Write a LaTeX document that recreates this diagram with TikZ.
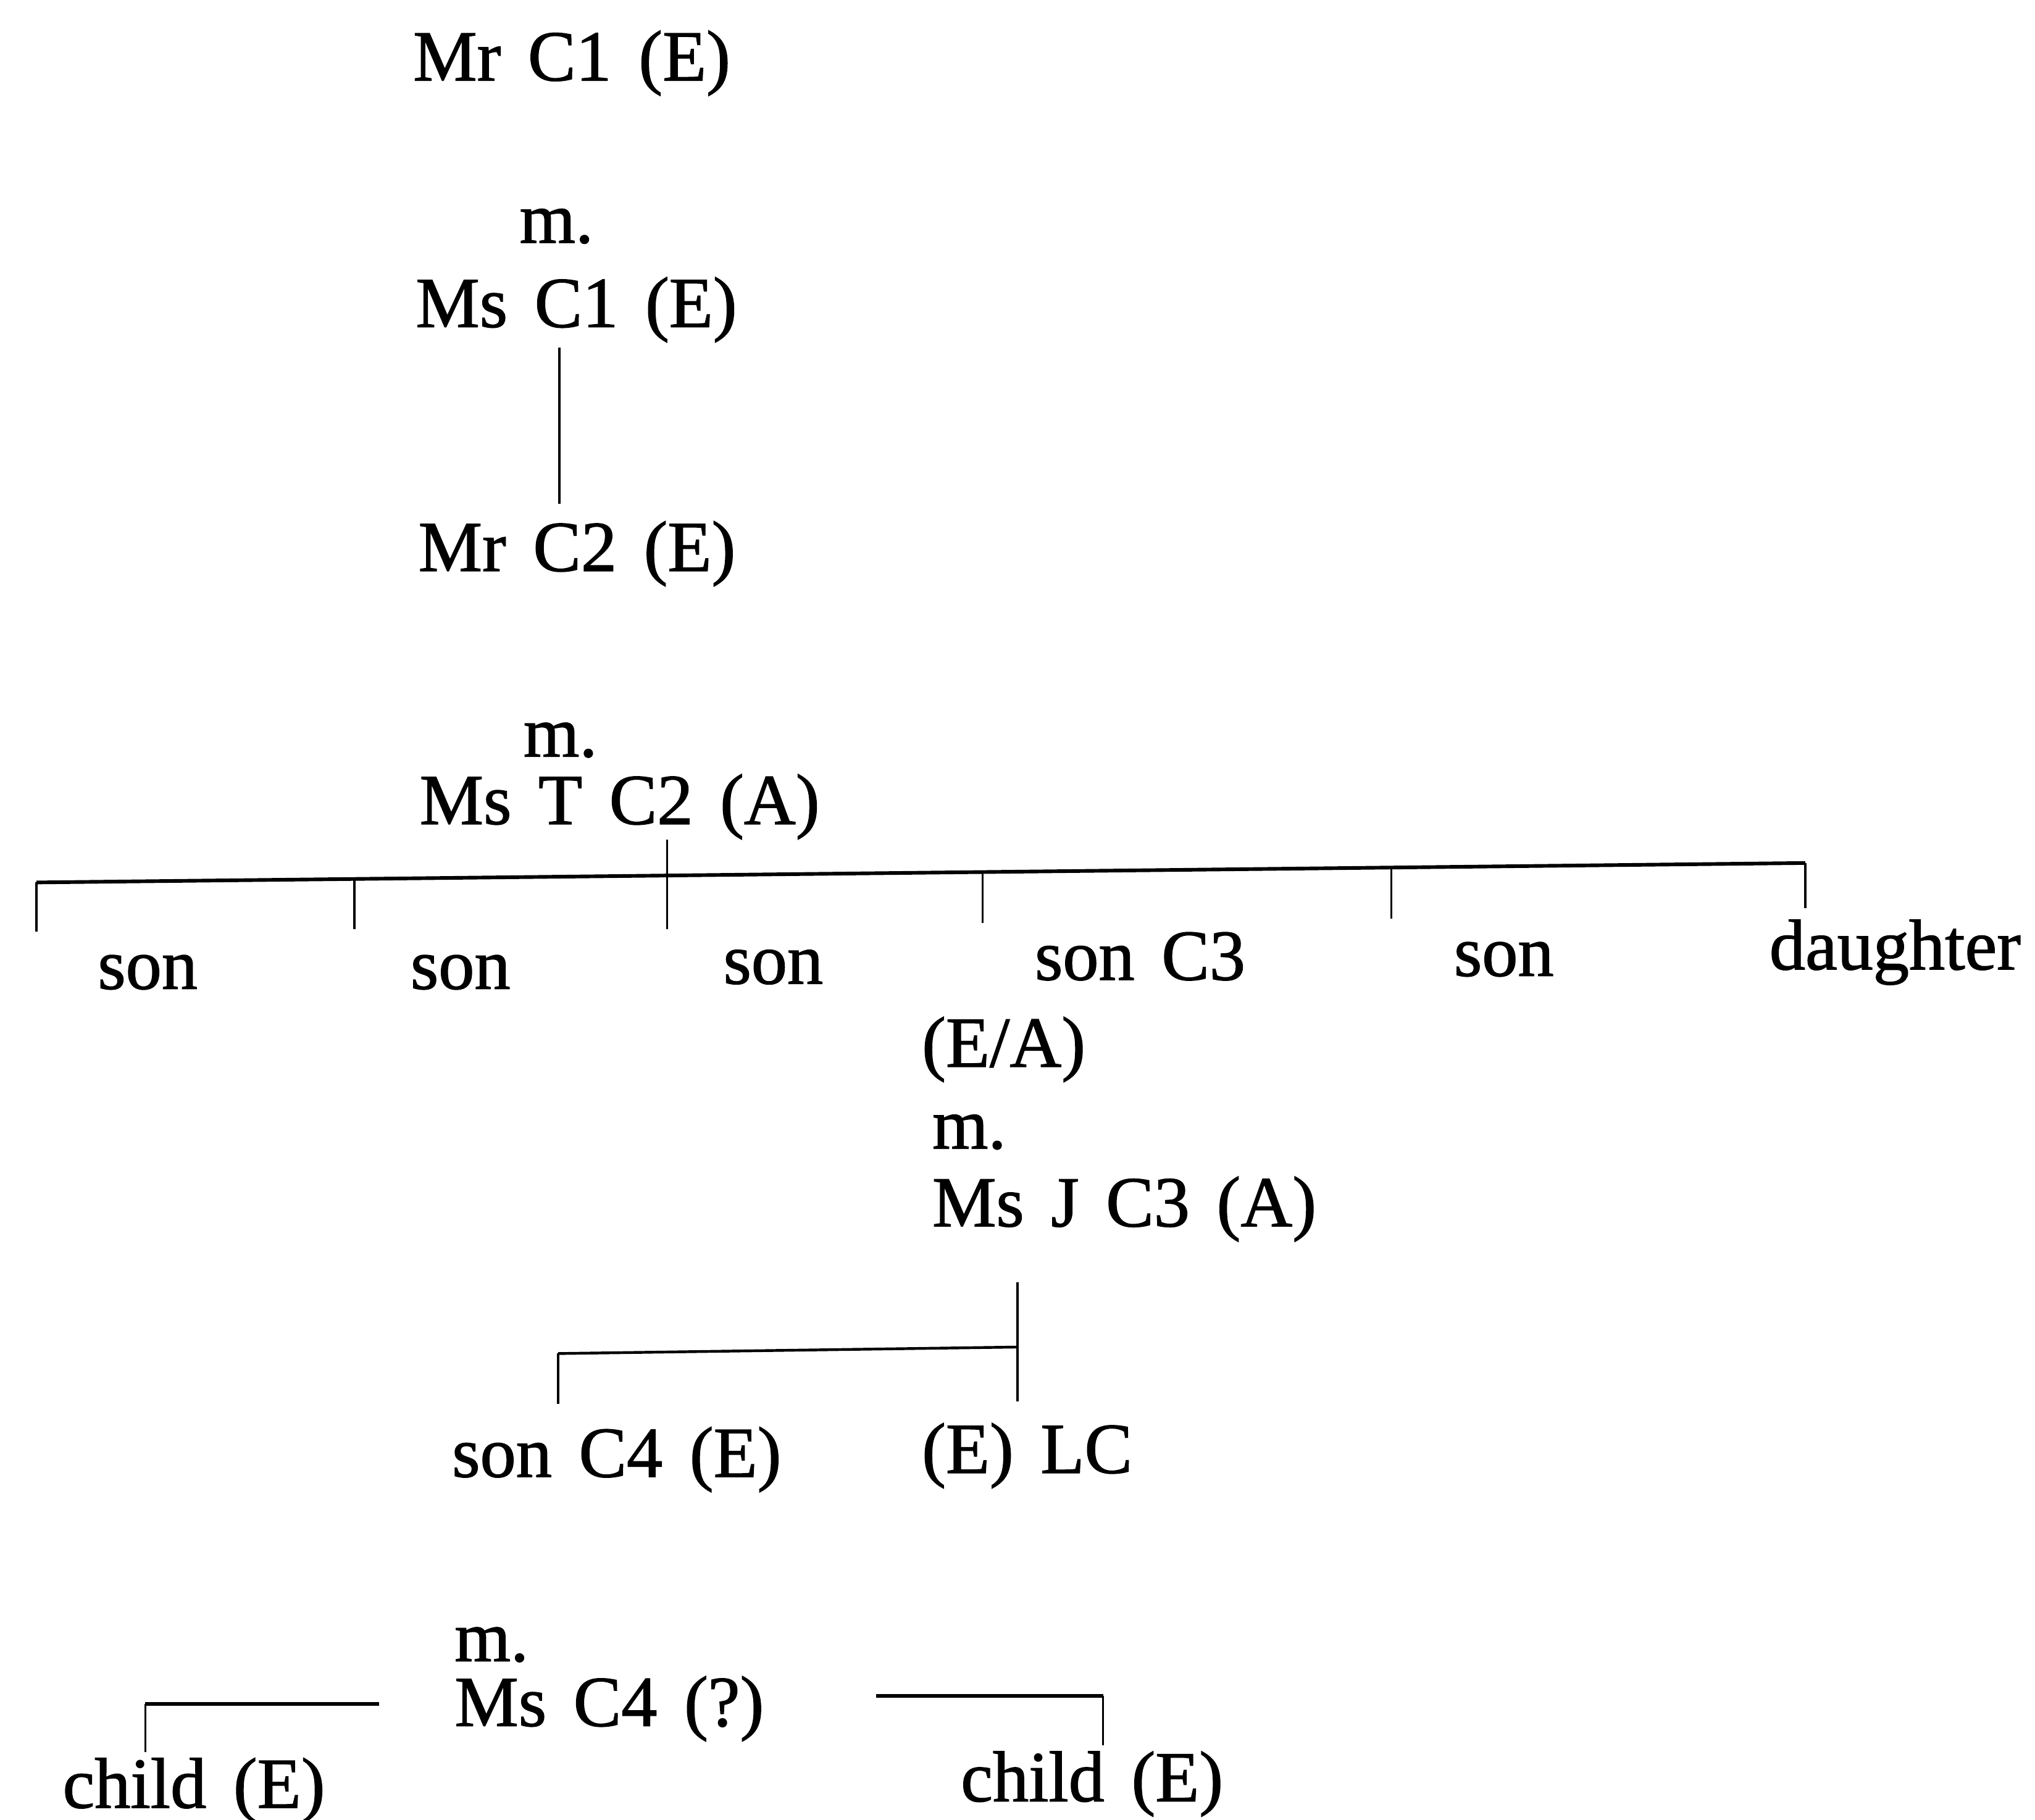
\documentclass[tikz,border=0pt]{standalone}
\usepackage{fontspec}
\setmainfont{Liberation Serif}[WordSpace=1.5, FakeBold=1.2]
\begin{document}
\begin{tikzpicture}[x=0.02cm,y=-0.02cm,
  person/.style={anchor=base west, inner sep=0pt, font=\fontsize{31.5}{36}\selectfont},
  bar/.style={line width=1.6pt, line cap=butt},
  tick/.style={line width=0.9pt}]
\useasboundingbox (0,0) rectangle (1568,1402);

% generation 1 and 2
\node[person] (mrc1)  at (318,62)  {Mr C1 (E)};
\node[person] (m1)    at (400,187) {m.};
\node[person] (msc1)  at (320,252) {Ms C1 (E)};
\node[person] (mrc2)  at (322,440) {Mr C2 (E)};
\node[person] (m2)    at (403,583) {m.};
\node[person] (mstc2) at (323,635) {Ms T C2 (A)};

\coordinate (d1top) at (431,268);
\coordinate (d1bot) at (431,388);
\draw[tick] (d1top) -- (d1bot);

% children of Mr C2 and Ms T C2
\node[person] (son1)  at (75,762)   {son};
\node[person] (son2)  at (316,762)  {son};
\node[person] (son3)  at (557,758)  {son};
\node[person] (sonc3) at (797,755)  {son C3};
\node[person] (son5)  at (1120,752) {son};
\node[person] (dau)   at (1363,747) {daughter};

\coordinate (barL) at (28,680);
\coordinate (barR) at (1391,665);
\draw[bar] (barL) -- (barR);
\coordinate (t1) at (28,680);     \coordinate (t1b) at (28,718);
\coordinate (t2) at (273,677.3);  \coordinate (t2b) at (273,716);
\coordinate (t3) at (514,647);    \coordinate (t3b) at (514,716);
\coordinate (t4) at (757,672);    \coordinate (t4b) at (757,711);
\coordinate (t5) at (1072,668.5); \coordinate (t5b) at (1072,708);
\coordinate (t6) at (1391,665);   \coordinate (t6b) at (1391,700);
\foreach \a/\b in {t1/t1b,t2/t2b,t3/t3b,t4/t4b,t5/t5b,t6/t6b}
  \draw[tick] (\a) -- (\b);

% son C3 and his wife
\node[person] (ea)    at (710,822)  {(E/A)};
\node[person] (m3)    at (718,885)  {m.};
\node[person] (msjc3) at (718,945)  {Ms J C3 (A)};

\coordinate (d3top) at (784,988);
\coordinate (d3bot) at (784,1080);
\coordinate (b3L)   at (430,1043);
\coordinate (b3R)   at (784,1038);
\coordinate (b3Lb)  at (430,1082);
\draw[tick] (d3top) -- (d3bot);
\draw[line width=1.2pt] (b3L) -- (b3R);
\draw[tick] (b3L) -- (b3Lb);

\node[person] (sonc4) at (348,1138) {son C4 (E)};
\node[person] (lc)    at (710,1135) {(E) LC};

% son C4 and his wife
\node[person] (m4)    at (350,1280) {m.};
\node[person] (msc4)  at (350,1330) {Ms C4 (?)};

\coordinate (c1h) at (292,1313);
\coordinate (c1c) at (112,1313);
\coordinate (c1b) at (112,1350);
\draw[bar] (c1h) -- (c1c);
\draw[tick] (c1c) -- (c1b);

\coordinate (c2h) at (675,1307);
\coordinate (c2c) at (850,1307);
\coordinate (c2b) at (850,1345);
\draw[bar] (c2h) -- (c2c);
\draw[tick] (c2c) -- (c2b);

\node[person] (child1) at (48,1393)  {child (E)};
\node[person] (child2) at (740,1388) {child (E)};
\end{tikzpicture}
\end{document}
